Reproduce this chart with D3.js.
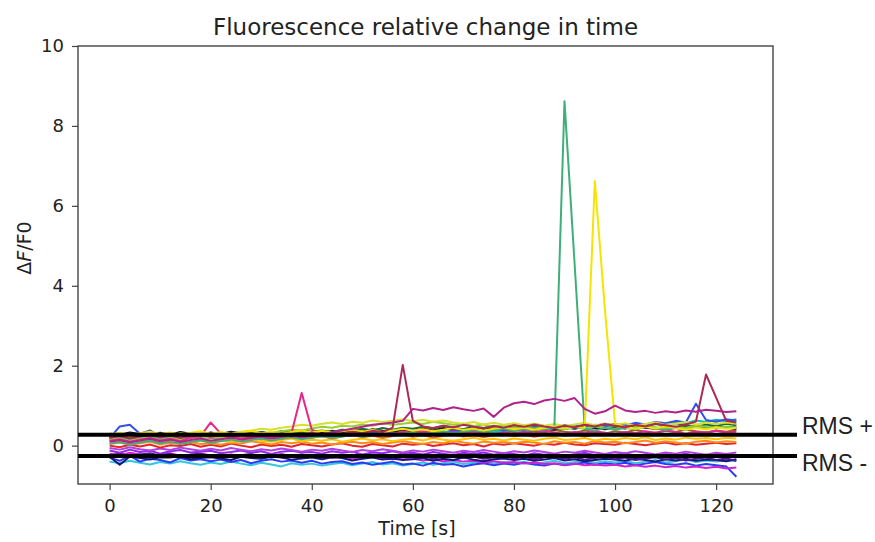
<!DOCTYPE html>
<html>
<head>
<meta charset="utf-8">
<script src="https://cdn.jsdelivr.net/npm/d3@7"></script>
<style>
  body { margin: 0; background: #fff; }
  text { font-family: "DejaVu Sans", sans-serif; fill: #222; }
</style>
</head>
<body>
<div class="canva"></div>
<script>
// time grid (s)
const time = [0,2,4,6,8,10,12,14,16,18,20,22,24,26,28,30,32,34,36,38,40,42,44,46,48,50,52,54,56,58,
  60,62,64,66,68,70,72,74,76,78,80,82,84,86,88,90,92,94,96,98,100,102,104,106,108,110,112,114,116,118,120,122,124];

// dF/F0 traces, one value per time point
const cyanTrace = [-0.40,-0.44,-0.38,-0.43,-0.47,-0.41,-0.45,-0.39,-0.44,-0.48,
  -0.42,-0.46,-0.40,-0.45,-0.49,-0.43,-0.47,-0.52,-0.44,-0.48,
  -0.45,-0.50,-0.46,-0.43,-0.49,-0.45,-0.41,-0.47,-0.44,-0.50,
  -0.46,-0.42,-0.48,-0.44,-0.40,-0.46,-0.43,-0.39,-0.45,-0.41,
  -0.44,-0.40,-0.46,-0.42,-0.38,-0.44,-0.41,-0.37,-0.43,-0.39,
  -0.42,-0.38,-0.44,-0.40,-0.36,-0.42,-0.39,-0.35,-0.41,-0.37,
  -0.40,-0.36,-0.39];
const blueTrace = [-0.30,-0.38,-0.25,-0.40,-0.33,-0.36,-0.42,-0.31,-0.37,-0.34,
  -0.39,-0.35,-0.41,-0.36,-0.44,-0.38,-0.34,-0.40,-0.37,-0.43,
  -0.38,-0.45,-0.41,-0.39,-0.46,-0.42,-0.48,-0.44,-0.40,-0.47,
  -0.45,-0.50,-0.43,-0.48,-0.46,-0.52,-0.47,-0.44,-0.49,-0.45,
  -0.48,-0.43,-0.47,-0.50,-0.45,-0.49,-0.46,-0.42,-0.48,-0.44,
  -0.47,-0.43,-0.49,-0.45,-0.41,-0.46,-0.48,-0.44,-0.50,-0.46,
  -0.49,-0.52,-0.78];
const magentaTrace = [-0.20,-0.24,-0.18,-0.22,-0.26,-0.21,-0.19,-0.25,-0.23,-0.20,
  -0.24,-0.27,-0.22,-0.26,-0.23,-0.28,-0.25,-0.21,-0.27,-0.24,
  -0.28,-0.25,-0.30,-0.27,-0.32,-0.29,-0.26,-0.31,-0.34,-0.30,
  -0.33,-0.37,-0.35,-0.39,-0.36,-0.40,-0.38,-0.42,-0.39,-0.43,
  -0.41,-0.45,-0.42,-0.46,-0.44,-0.48,-0.45,-0.49,-0.47,-0.50,
  -0.48,-0.52,-0.49,-0.53,-0.50,-0.54,-0.51,-0.55,-0.52,-0.56,
  -0.53,-0.57,-0.55];
const navyTrace = [-0.28,-0.48,-0.27,-0.31,-0.35,-0.29,-0.30,-0.26,-0.34,-0.31,
  -0.29,-0.32,-0.36,-0.28,-0.31,-0.33,-0.27,-0.30,-0.35,-0.32,
  -0.30,-0.34,-0.29,-0.31,-0.37,-0.33,-0.30,-0.35,-0.32,-0.36,
  -0.34,-0.31,-0.38,-0.33,-0.36,-0.30,-0.35,-0.39,-0.34,-0.32,
  -0.36,-0.33,-0.38,-0.35,-0.31,-0.37,-0.34,-0.39,-0.36,-0.33,
  -0.35,-0.38,-0.32,-0.36,-0.40,-0.34,-0.37,-0.33,-0.38,-0.35,
  -0.36,-0.39,-0.34];
const indigoTrace = [-0.24,-0.20,-0.26,-0.22,-0.19,-0.25,-0.21,-0.27,-0.23,-0.20,
  -0.26,-0.22,-0.28,-0.24,-0.21,-0.27,-0.23,-0.29,-0.25,-0.22,
  -0.28,-0.24,-0.30,-0.26,-0.23,-0.29,-0.25,-0.31,-0.27,-0.24,
  -0.30,-0.26,-0.32,-0.28,-0.25,-0.31,-0.27,-0.33,-0.29,-0.26,
  -0.32,-0.28,-0.34,-0.30,-0.27,-0.33,-0.29,-0.35,-0.31,-0.28,
  -0.34,-0.30,-0.36,-0.32,-0.29,-0.35,-0.31,-0.37,-0.33,-0.30,
  -0.36,-0.32,-0.38];
const purpleTrace = [-0.12,-0.18,-0.10,-0.16,-0.13,-0.20,-0.14,-0.11,-0.17,-0.15,
  -0.13,-0.19,-0.16,-0.12,-0.18,-0.14,-0.21,-0.15,-0.13,-0.17,
  -0.16,-0.20,-0.14,-0.18,-0.15,-0.22,-0.17,-0.19,-0.14,-0.20,
  -0.18,-0.22,-0.16,-0.20,-0.24,-0.18,-0.21,-0.17,-0.23,-0.19,
  -0.21,-0.25,-0.19,-0.23,-0.20,-0.26,-0.22,-0.18,-0.24,-0.21,
  -0.23,-0.19,-0.25,-0.22,-0.27,-0.21,-0.24,-0.20,-0.26,-0.23,
  -0.25,-0.22,-0.27];
const violetTrace = [-0.06,-0.10,-0.04,-0.09,-0.12,-0.07,-0.11,-0.05,-0.09,-0.13,
  -0.08,-0.12,-0.06,-0.10,-0.14,-0.09,-0.12,-0.07,-0.11,-0.15,
  -0.10,-0.13,-0.08,-0.12,-0.16,-0.11,-0.14,-0.09,-0.13,-0.17,
  -0.12,-0.15,-0.10,-0.14,-0.18,-0.13,-0.16,-0.11,-0.15,-0.19,
  -0.14,-0.17,-0.12,-0.16,-0.20,-0.15,-0.18,-0.13,-0.17,-0.21,
  -0.16,-0.19,-0.14,-0.18,-0.22,-0.17,-0.20,-0.15,-0.19,-0.23,
  -0.18,-0.21,-0.17];
const redTrace = [0.00,-0.04,0.02,-0.02,0.03,-0.05,0.01,-0.01,0.04,-0.03,
  0.02,-0.02,0.05,0.00,-0.04,0.03,-0.01,0.02,-0.03,0.04,
  0.01,-0.02,0.03,0.06,0.00,-0.03,0.04,0.01,-0.02,0.05,
  0.02,0.05,-0.01,0.03,0.06,0.01,0.04,-0.02,0.05,0.02,
  0.06,0.03,0.00,0.05,0.02,0.07,0.03,0.01,0.06,0.04,
  0.02,0.07,0.04,0.01,0.05,0.08,0.03,0.06,0.02,0.05,
  0.07,0.04,0.06];
const orangeTrace = [0.04,0.08,0.02,0.06,0.10,0.03,0.07,0.05,0.09,0.04,
  0.06,0.02,0.08,0.05,0.11,0.07,0.03,0.09,0.06,0.10,
  0.05,0.08,0.03,0.07,0.10,0.06,0.09,0.04,0.08,0.11,
  0.07,0.04,0.09,0.06,0.12,0.08,0.05,0.10,0.07,0.09,
  0.06,0.10,0.08,0.04,0.11,0.07,0.09,0.05,0.12,0.08,
  0.10,0.06,0.09,0.13,0.07,0.11,0.08,0.05,0.10,0.12,
  0.08,0.11,0.09];
const goldTrace = [0.12,0.09,0.15,0.11,0.14,0.08,0.13,0.16,0.10,0.14,
  0.11,0.15,0.09,0.13,0.17,0.12,0.10,0.14,0.18,0.11,
  0.15,0.12,0.16,0.10,0.14,0.18,0.13,0.16,0.11,0.15,
  0.17,0.13,0.19,0.15,0.12,0.16,0.20,0.14,0.17,0.13,
  0.18,0.15,0.12,0.17,0.20,0.14,0.16,0.19,0.13,0.17,
  0.15,0.19,0.16,0.21,0.14,0.18,0.15,0.20,0.17,0.19,
  0.16,0.20,0.18];
const salmonTrace = [0.16,0.20,0.14,0.19,0.23,0.17,0.21,0.15,0.20,0.24,
  0.18,0.22,0.16,0.21,0.25,0.19,0.23,0.17,0.22,0.26,
  0.20,0.24,0.18,0.23,0.27,0.21,0.25,0.19,0.24,0.28,
  0.22,0.26,0.20,0.25,0.29,0.23,0.27,0.21,0.26,0.30,
  0.24,0.28,0.22,0.27,0.31,0.25,0.29,0.23,0.28,0.32,
  0.26,0.30,0.24,0.29,0.33,0.27,0.31,0.25,0.30,0.34,
  0.28,0.32,0.29];
const brownTrace = [0.22,0.26,0.20,0.28,0.24,0.30,0.25,0.33,0.27,0.23,
  0.29,0.26,0.31,0.27,0.35,0.28,0.32,0.26,0.30,0.34,
  0.28,0.32,0.29,0.35,0.31,0.27,0.33,0.30,0.36,0.32,
  0.34,0.29,0.35,0.31,0.37,0.33,0.30,0.36,0.32,0.38,
  0.34,0.31,0.37,0.33,0.39,0.35,0.32,0.38,0.34,0.30,
  0.36,0.33,0.39,0.35,0.31,0.37,0.34,0.40,0.36,0.33,
  0.38,0.35,0.39];
const blackTrace = [0.30,0.27,0.33,0.29,0.26,0.32,0.28,0.34,0.30,0.27,
  0.33,0.29,0.35,0.31,0.28,0.34,0.30,0.36,0.32,0.38,
  0.34,0.31,0.37,0.33,0.39,0.35,0.41,0.37,0.34,0.40,
  0.36,0.42,0.38,0.44,0.40,0.37,0.43,0.39,0.45,0.41,
  0.47,0.43,0.49,0.44,0.40,0.46,0.42,0.48,0.44,0.41,
  0.46,0.43,0.49,0.45,0.42,0.47,0.44,0.50,0.46,0.43,
  0.48,0.45,0.42];
const darkGreenTrace = [0.27,0.24,0.30,0.26,0.29,0.25,0.31,0.28,0.24,0.30,
  0.27,0.32,0.28,0.25,0.31,0.34,0.29,0.33,0.36,0.32,
  0.35,0.38,0.34,0.40,0.37,0.42,0.38,0.44,0.40,0.45,
  0.42,0.47,0.43,0.49,0.45,0.41,0.48,0.44,0.50,0.46,
  0.52,0.47,0.54,0.49,0.45,0.51,0.47,0.53,0.49,0.55,
  0.50,0.46,0.52,0.48,0.54,0.50,0.56,0.51,0.47,0.53,
  0.49,0.55,0.51];
const tealTrace = [0.18,0.22,0.16,0.20,0.24,0.19,0.23,0.17,0.21,0.25,
  0.20,0.24,0.19,0.23,0.27,0.22,0.26,0.21,0.25,0.29,
  0.24,0.28,0.23,0.27,0.31,0.26,0.30,0.25,0.29,0.33,
  0.28,0.32,0.27,0.31,0.35,0.30,0.34,0.38,0.33,0.37,
  0.40,0.36,0.42,0.38,0.44,0.41,0.46,0.42,0.48,0.45,
  0.51,0.47,0.54,0.50,0.57,0.53,0.60,0.56,0.63,0.59,
  0.65,0.61,0.66];
const blueSpikeTrace = [0.18,0.48,0.52,0.30,0.38,0.22,0.27,0.20,0.25,0.19,
  0.23,0.18,0.26,0.21,0.24,0.20,0.27,0.22,0.25,0.21,
  0.26,0.23,0.28,0.24,0.30,0.26,0.32,0.28,0.33,0.29,
  0.35,0.31,0.36,0.33,0.38,0.34,0.40,0.36,0.42,0.38,
  0.44,0.40,0.46,0.42,0.48,0.45,0.50,0.46,0.52,0.49,
  0.55,0.51,0.57,0.53,0.59,0.56,0.62,0.58,1.05,0.64,
  0.60,0.66,0.62];
const limeTrace = [0.15,0.18,0.12,0.17,0.20,0.14,0.19,0.16,0.21,0.18,
  0.22,0.19,0.24,0.21,0.26,0.30,0.33,0.36,0.40,0.38,
  0.43,0.47,0.45,0.50,0.48,0.53,0.50,0.56,0.52,0.55,
  0.58,0.54,0.60,0.56,0.52,0.55,0.49,0.53,0.47,0.51,
  0.46,0.50,0.44,0.48,0.45,0.42,0.47,0.43,0.49,0.45,
  0.42,0.47,0.44,0.49,0.46,0.43,0.48,0.45,0.50,0.47,
  0.44,0.48,0.46];
const yellowGreenTrace = [0.25,0.28,0.23,0.30,0.26,0.29,0.24,0.31,0.27,0.30,
  0.28,0.32,0.29,0.35,0.38,0.42,0.40,0.45,0.48,0.52,
  0.50,0.55,0.58,0.54,0.60,0.57,0.63,0.59,0.62,0.66,
  0.61,0.65,0.60,0.63,0.58,0.55,0.59,0.53,0.57,0.52,
  0.56,0.51,0.55,0.50,0.54,0.49,0.53,0.57,0.51,0.55,
  0.52,0.56,0.50,0.54,0.58,0.52,0.55,0.59,0.53,0.57,
  0.54,0.58,0.55];
const pinkTrace = [0.12,0.16,0.10,0.15,0.19,0.13,0.17,0.11,0.20,0.24,
  0.58,0.30,0.22,0.18,0.21,0.17,0.23,0.19,0.32,1.32,
  0.40,0.28,0.24,0.29,0.25,0.31,0.27,0.33,0.29,0.35,
  0.31,0.36,0.32,0.29,0.34,0.30,0.36,0.32,0.28,0.33,
  0.30,0.35,0.31,0.37,0.33,0.29,0.34,0.31,0.36,0.32,
  0.29,0.34,0.31,0.36,0.32,0.38,0.34,0.30,0.35,0.32,
  0.37,0.33,0.35];
const greenTrace = [0.05,0.09,0.03,0.08,0.12,0.06,0.10,0.04,0.09,0.13,
  0.07,0.11,0.15,0.10,0.14,0.18,0.13,0.17,0.21,0.16,
  0.20,0.24,0.19,0.23,0.27,0.22,0.26,0.30,0.25,0.29,
  0.33,0.28,0.32,0.36,0.31,0.35,0.39,0.34,0.38,0.42,
  0.37,0.41,0.45,0.40,0.48,8.62,4.55,0.42,0.38,0.44,
  0.40,0.45,0.41,0.47,0.43,0.39,0.44,0.40,0.46,0.42,
  0.48,0.44,0.47];
const yellowTrace = [0.28,0.32,0.26,0.31,0.35,0.29,0.33,0.27,0.32,0.36,
  0.30,0.34,0.29,0.33,0.37,0.31,0.35,0.30,0.34,0.38,
  0.33,0.37,0.32,0.36,0.40,0.35,0.39,0.34,0.38,0.42,
  0.37,0.41,0.36,0.40,0.44,0.39,0.43,0.38,0.42,0.46,
  0.41,0.45,0.40,0.44,0.48,0.43,0.47,0.45,6.62,3.40,
  0.55,0.46,0.42,0.47,0.43,0.48,0.44,0.40,0.45,0.41,
  0.46,0.42,0.45];
const maroonTrace = [0.20,0.24,0.18,0.23,0.27,0.21,0.25,0.19,0.24,0.28,
  0.22,0.26,0.21,0.27,0.24,0.30,0.25,0.29,0.23,0.28,
  0.32,0.27,0.33,0.29,0.35,0.31,0.37,0.34,0.45,2.02,
  0.62,0.48,0.44,0.50,0.46,0.52,0.47,0.43,0.49,0.45,
  0.51,0.47,0.53,0.48,0.44,0.50,0.46,0.52,0.48,0.54,
  0.50,0.46,0.52,0.48,0.55,0.51,0.47,0.53,0.60,1.78,
  1.20,0.62,0.58];
const plumTrace = [0.10,0.14,0.08,0.13,0.17,0.11,0.15,0.09,0.14,0.18,
  0.12,0.16,0.20,0.15,0.19,0.23,0.18,0.22,0.26,0.21,
  0.25,0.29,0.33,0.38,0.42,0.47,0.52,0.55,0.58,0.62,
  0.92,0.88,0.94,0.89,0.96,0.91,0.87,0.93,0.72,0.95,
  1.06,1.10,1.04,1.13,1.17,1.12,1.19,0.92,0.80,0.86,
  1.00,0.88,0.84,0.87,0.82,0.86,0.83,0.88,0.85,0.90,
  0.87,0.84,0.86];

// RMS threshold levels
const rmsLevels = [0.27, -0.26];
const rmsLabels = ['RMS +', 'RMS -'];

// tick values
const xTicks = [0, 20, 40, 60, 80, 100, 120];
const yTicks = [0, 2, 4, 6, 8, 10];

// drawing order and colours
const series = [
  {values: cyanTrace, color: '#33c6dc'},
  {values: blueTrace, color: '#2a3cf2'},
  {values: magentaTrace, color: '#cf22d0'},
  {values: navyTrace, color: '#14147a'},
  {values: indigoTrace, color: '#4a1490'},
  {values: purpleTrace, color: '#8a2be2'},
  {values: violetTrace, color: '#b040e0'},
  {values: redTrace, color: '#e3262a'},
  {values: orangeTrace, color: '#ff8a1c'},
  {values: goldTrace, color: '#ffc400'},
  {values: salmonTrace, color: '#f06a3c'},
  {values: brownTrace, color: '#9a5a2e'},
  {values: blackTrace, color: '#141414'},
  {values: darkGreenTrace, color: '#1f6b38'},
  {values: tealTrace, color: '#1bb5ab'},
  {values: blueSpikeTrace, color: '#3450e6'},
  {values: limeTrace, color: '#9acd32'},
  {values: yellowGreenTrace, color: '#d6e02e'},
  {values: pinkTrace, color: '#e6288c'},
  {values: greenTrace, color: '#3fae7a'},
  {values: yellowTrace, color: '#f6e400'},
  {values: maroonTrace, color: '#aa2a55'},
  {values: plumTrace, color: '#b0228c'}
];

const width = 875, height = 542;
const margin = {top: 46, right: 102, bottom: 58, left: 78};
const graphWidth = width - margin.left - margin.right;
const graphHeight = height - margin.top - margin.bottom;

const svg = d3.select('.canva').append('svg')
  .attr('width', width)
  .attr('height', height);

const graph = svg.append('g')
  .attr('transform', `translate(${margin.left}, ${margin.top})`);

const x = d3.scaleLinear().domain([-6.25, 131.25]).range([0, graphWidth]);
const y = d3.scaleLinear().domain([-0.96, 10]).range([graphHeight, 0]);

graph.append('clipPath').attr('id', 'clip')
  .append('rect').attr('width', graphWidth).attr('height', graphHeight);

const line = d3.line()
  .x((d, i) => x(time[i]))
  .y(d => y(d));

graph.append('g').attr('clip-path', 'url(#clip)')
  .selectAll('path')
  .data(series)
  .enter().append('path')
  .attr('d', d => line(d.values))
  .attr('fill', 'none')
  .attr('stroke', d => d.color)
  .attr('stroke-width', 2)
  .attr('stroke-linejoin', 'round');

// axes
const xAxis = d3.axisBottom(x).tickValues(xTicks).tickSize(6).tickPadding(9);
const yAxis = d3.axisLeft(y).tickValues(yTicks).tickSize(6).tickPadding(8);

const xAxisGroup = graph.append('g')
  .attr('transform', `translate(0, ${graphHeight})`)
  .call(xAxis);
const yAxisGroup = graph.append('g').call(yAxis);

[xAxisGroup, yAxisGroup].forEach(g => {
  g.select('.domain').remove();
  g.selectAll('line').attr('stroke', '#444').attr('stroke-width', 1.2);
  g.selectAll('text').style('font-size', '18px').attr('fill', '#2a2a2a');
});

// frame
graph.append('rect')
  .attr('width', graphWidth)
  .attr('height', graphHeight)
  .attr('fill', 'none')
  .attr('stroke', '#444')
  .attr('stroke-width', 1.4);

// RMS lines, drawn past the right spine
const rmsEnd = 136;
graph.selectAll('.rms')
  .data(rmsLevels)
  .enter().append('line')
  .attr('x1', 0)
  .attr('x2', x(rmsEnd))
  .attr('y1', d => y(d))
  .attr('y2', d => y(d))
  .attr('stroke', '#000')
  .attr('stroke-width', 4);

graph.selectAll('.rmsLabel')
  .data(rmsLevels)
  .enter().append('text')
  .attr('x', x(rmsEnd) + 5)
  .attr('y', (d, i) => y(d) + (i === 0 ? -9 : 7))
  .attr('dy', '0.35em')
  .style('font-family', '"Liberation Sans", Arial, sans-serif')
  .style('font-size', '23px')
  .attr('fill', '#111')
  .text((d, i) => rmsLabels[i]);

// title and labels
svg.append('text')
  .attr('x', margin.left + graphWidth / 2)
  .attr('y', 35)
  .attr('text-anchor', 'middle')
  .style('font-size', '23px')
  .text('Fluorescence relative change in time');

svg.append('text')
  .attr('x', 417)
  .attr('y', 535)
  .attr('text-anchor', 'middle')
  .style('font-size', '19px')
  .text('Time [s]');

svg.append('text')
  .attr('transform', 'translate(31, 248) rotate(-90)')
  .attr('text-anchor', 'middle')
  .style('font-size', '19px')
  .html('Δ<tspan font-style="italic">F</tspan>/F0');
</script>
</body>
</html>
